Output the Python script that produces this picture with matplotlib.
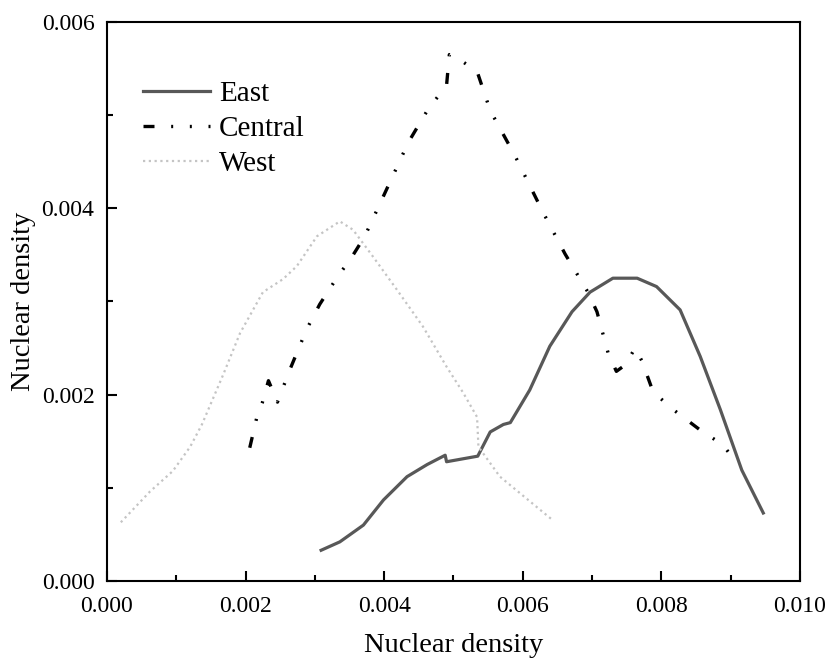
import numpy as np
import matplotlib.pyplot as plt
from matplotlib.ticker import MultipleLocator, FormatStrFormatter

plt.rcParams["font.family"] = ["Liberation Serif", "DejaVu Serif"]

# kernel density curves for the three regions
east_x = [0.00309, 0.00336, 0.00370, 0.00399, 0.00433, 0.00462, 0.00488, 0.00490,
          0.00535, 0.00553, 0.00572, 0.00582, 0.00610, 0.00639, 0.00671, 0.00697,
          0.00730, 0.00765, 0.00793, 0.00827, 0.00856, 0.00885, 0.00916, 0.00947]
east_y = [0.00033, 0.00042, 0.00060, 0.00087, 0.00112, 0.00125, 0.00135, 0.00128,
          0.00134, 0.00160, 0.00168, 0.00170, 0.00205, 0.00252, 0.00289, 0.00310,
          0.00325, 0.00325, 0.00316, 0.00291, 0.00241, 0.00184, 0.00119, 0.00073]

central_x = [0.00206, 0.00216, 0.00224, 0.00233, 0.00246, 0.00264, 0.00288, 0.00307,
             0.00333, 0.00351, 0.00372, 0.00397, 0.00435, 0.00463, 0.00490, 0.00494,
             0.00514, 0.00534, 0.00553, 0.00589, 0.00629, 0.00661, 0.00694, 0.00707,
             0.00723, 0.00735, 0.00748, 0.00762, 0.00772, 0.00788, 0.00817, 0.00856,
             0.00889, 0.00910]
central_y = [0.00143, 0.00175, 0.00191, 0.00215, 0.00192, 0.00227, 0.00270, 0.00297,
             0.00327, 0.00345, 0.00370, 0.00410, 0.00471, 0.00506, 0.00532, 0.00565,
             0.00557, 0.00547, 0.00505, 0.00456, 0.00396, 0.00351, 0.00310, 0.00289,
             0.00245, 0.00225, 0.00232, 0.00250, 0.00236, 0.00203, 0.00184, 0.00162,
             0.00146, 0.00125]

west_x = [0.00020, 0.00062, 0.00095, 0.00120, 0.00137, 0.00168, 0.00192, 0.00225,
          0.00254, 0.00274, 0.00303, 0.00336, 0.00355, 0.00384, 0.00418, 0.00456,
          0.00490, 0.00514, 0.00534, 0.00536, 0.00567, 0.00642]
west_y = [0.00063, 0.00096, 0.00118, 0.00144, 0.00168, 0.00222, 0.00266, 0.00310,
          0.00324, 0.00338, 0.00370, 0.00386, 0.00377, 0.00348, 0.00313, 0.00273,
          0.00230, 0.00202, 0.00176, 0.00144, 0.00112, 0.00066]

fig = plt.figure(figsize=(8.28, 6.6), dpi=100)
ax = fig.add_axes([0.1292, 0.1197, 0.8370, 0.8470])

ax.plot(east_x, east_y, "-", color="#585858", lw=2.3, label="East")
ax.plot(central_x, central_y, color="black", lw=2.4,
        linestyle=(0, (3.3, 5.0, 0.6, 5.0, 0.6, 5.0)), label="Central")
ax.plot(west_x, west_y, color="#c4c4c4", lw=1.6,
        linestyle=(0, (1.0, 1.6)), label="West")

ax.set_xlim(0, 0.010)
ax.set_ylim(0, 0.006)
ax.xaxis.set_major_locator(MultipleLocator(0.002))
ax.xaxis.set_minor_locator(MultipleLocator(0.001))
ax.yaxis.set_major_locator(MultipleLocator(0.002))
ax.yaxis.set_minor_locator(MultipleLocator(0.001))
ax.xaxis.set_major_formatter(FormatStrFormatter("%.3f"))
ax.yaxis.set_major_formatter(FormatStrFormatter("%.3f"))

for s in ax.spines.values():
    s.set_linewidth(1.5)
ax.tick_params(which="both", direction="in", top=False, right=False, width=1.5)
ax.tick_params(which="major", length=7, labelsize=17)
ax.tick_params(axis="x", which="major", pad=11)
ax.tick_params(axis="y", which="major", pad=9)
ax.tick_params(which="minor", length=4.5)

ax.set_xlabel("Nuclear density", fontsize=20.5, labelpad=11)
ax.set_ylabel("Nuclear density", fontsize=20.5, labelpad=4)

ax.legend(loc="upper left", bbox_to_anchor=(0.052, 0.895), frameon=False,
          fontsize=21, handlelength=2.3, handletextpad=0.3, labelspacing=0.3,
          borderpad=0, borderaxespad=0)

plt.savefig("out.png", dpi=100)
